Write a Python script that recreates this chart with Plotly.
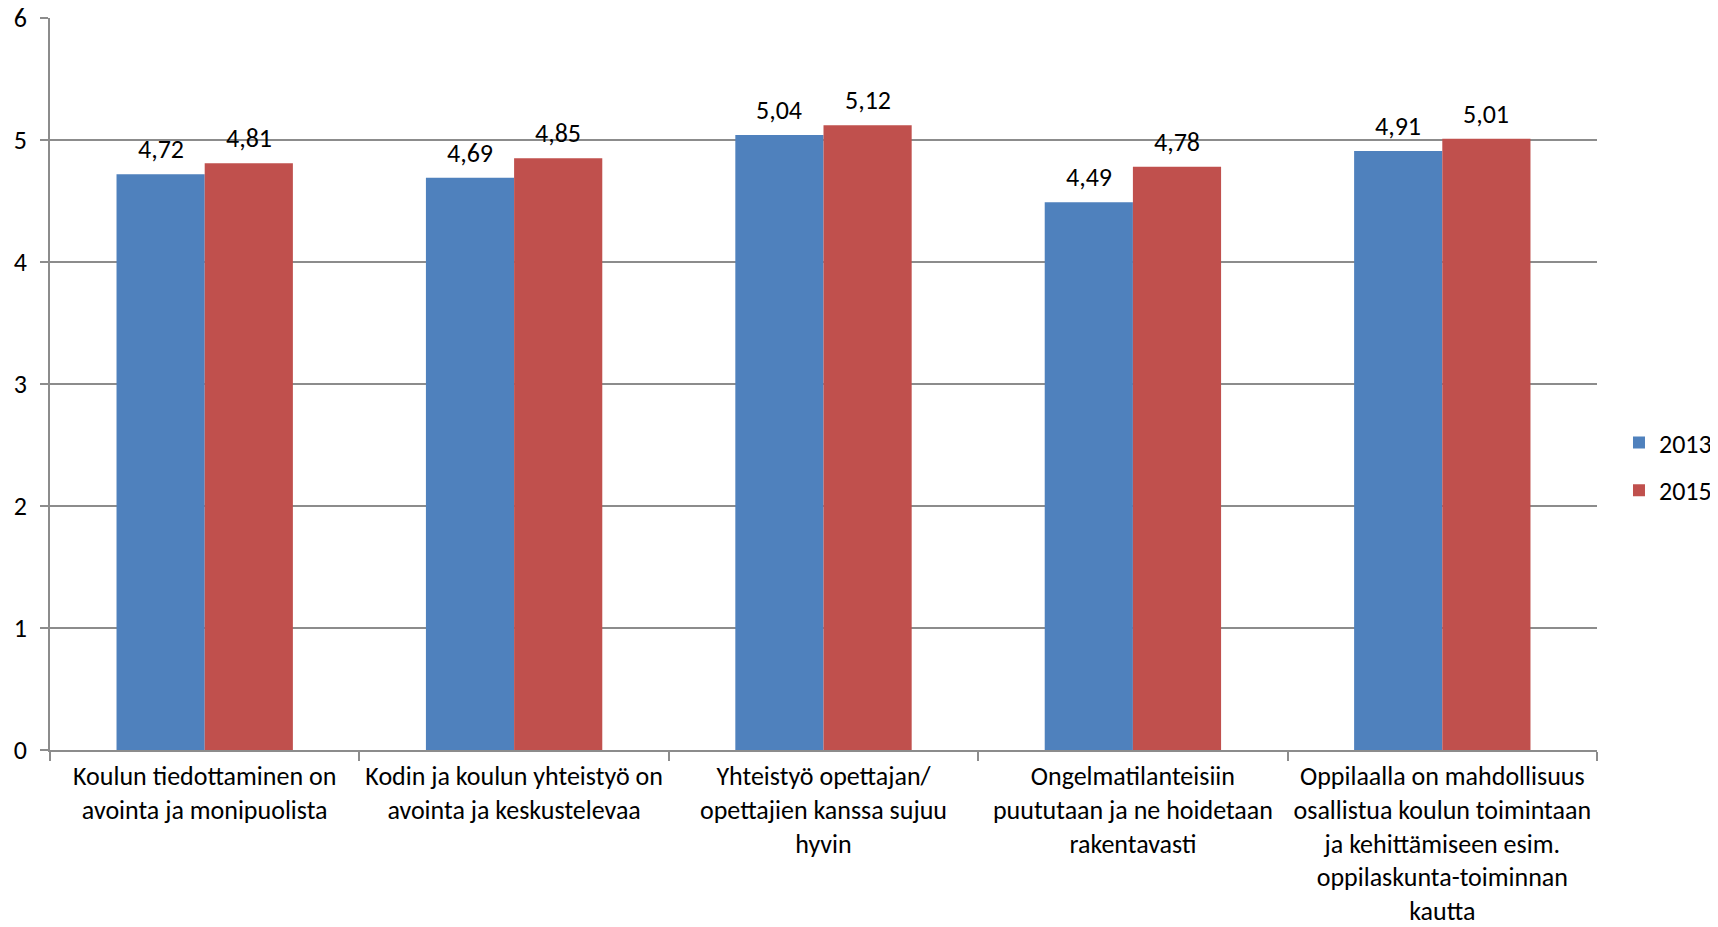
import plotly.graph_objects as go

categories = [
    "Koulun tiedottaminen on<br>avointa ja monipuolista",
    "Kodin ja koulun yhteistyö on<br>avointa ja keskustelevaa",
    "Yhteistyö opettajan/<br>opettajien kanssa sujuu<br>hyvin",
    "Ongelmatilanteisiin<br>puututaan ja ne hoidetaan<br>rakentavasti",
    "Oppilaalla on mahdollisuus<br>osallistua koulun toimintaan<br>ja kehittämiseen esim.<br>oppilaskunta-toiminnan<br>kautta",
]
values_2013 = [4.72, 4.69, 5.04, 4.49, 4.91]
values_2015 = [4.81, 4.85, 5.12, 4.78, 5.01]
series_names = ["2013", "2015"]
y_ticks = [0, 1, 2, 3, 4, 5, 6]

FONT = "Carlito, Lato, 'Open Sans', sans-serif"
GRID = "#8c8c8c"
FS = 26
BARGAP = 0.43

fig = go.Figure()
series = [(series_names[0], values_2013, "#4F81BD"),
          (series_names[1], values_2015, "#C0504D")]
for name, vals, color in series:
    fig.add_trace(go.Bar(
        x=categories, y=vals, name=name, marker_color=color,
        marker_line_width=0, legendgroup=name,
    ))

# value labels above each bar (comma decimal)
half = (1 - BARGAP) / 4
for k, (name, vals, color) in enumerate(series):
    off = -half if k == 0 else half
    for i, v in enumerate(vals):
        fig.add_annotation(
            x=i + off, y=v, xref="x", yref="y",
            text=f"{v:.2f}".replace(".", ","),
            showarrow=False, yanchor="middle", yshift=25,
            font=dict(size=FS, color="black", family=FONT),
        )

fig.update_layout(
    width=1710, height=919,
    margin=dict(l=42, r=121, t=10, b=177),
    paper_bgcolor="white", plot_bgcolor="white",
    barmode="group", bargap=BARGAP, bargroupgap=0,
    font=dict(family=FONT, size=FS, color="black"),
    legend=dict(xref="container", x=0.9421, y=0.452, xanchor="left", yanchor="top",
                traceorder="grouped", tracegroupgap=11,
                font=dict(size=FS, family=FONT)),
    showlegend=True,
)
fig.update_xaxes(
    showline=True, linecolor=GRID, linewidth=1.5, automargin=False,
    ticks="outside", tickson="boundaries", ticklen=9, tickcolor=GRID, tickwidth=1.5,
    tickangle=0, tickfont=dict(size=FS, family=FONT), ticklabelstandoff=2,
    ticklabeloverflow="allow",
)
fig.update_yaxes(
    range=[0, 6], tickvals=y_ticks, showgrid=True, gridcolor=GRID, gridwidth=1.5,
    showline=True, linecolor=GRID, linewidth=1.5, automargin=False,
    ticks="outside", ticklen=8, tickcolor=GRID, tickwidth=1.5,
    tickfont=dict(size=FS, family=FONT), zeroline=False,
    ticklabelstandoff=8, ticklabeloverflow="allow",
)
fig.write_html("out.html")
